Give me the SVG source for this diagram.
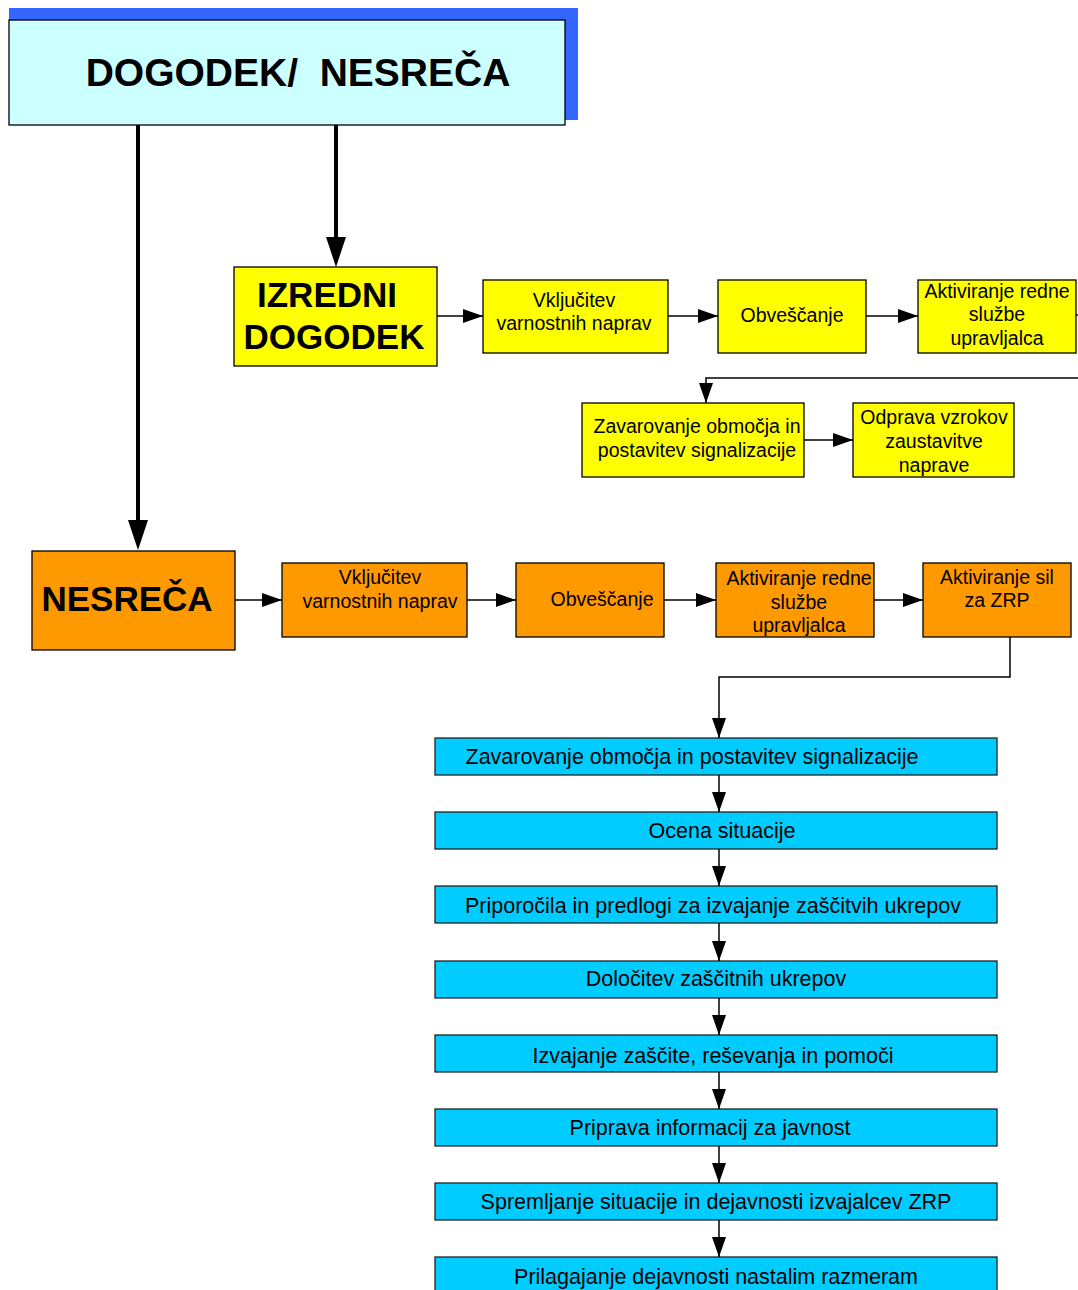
<svg xmlns="http://www.w3.org/2000/svg" width="1078" height="1290" viewBox="0 0 1078 1290">
<style>
.box{stroke:#000;stroke-width:1.3}
.y{fill:#FFFF00}
.o{fill:#FF9900}
.b{fill:#00CCFF;stroke:#222;stroke-width:1.3}
text{font-family:"Liberation Sans",Arial,sans-serif;fill:#000;text-anchor:middle}
.s{font-size:19.5px}
.m{font-size:21.5px}
.big{font-size:35px;font-weight:bold}
.c{stroke:#000;stroke-width:1.5;fill:none}
.ct{stroke:#000;stroke-width:4;fill:none}
</style>
<defs>
<marker id="ah" markerUnits="userSpaceOnUse" markerWidth="20" markerHeight="14" refX="20" refY="7" orient="auto">
<path d="M0,0 L20,7 L0,14 z" fill="#000"/>
</marker>
</defs>
<rect width="1078" height="1290" fill="#fff"/>

<g id="node-top">
<rect x="9" y="8" width="569" height="112" fill="#3366FF"/>
<rect x="9" y="20" width="556" height="105" fill="#CCFFFF" class="box"/>
<text x="298" y="86" style="font-size:39px;font-weight:bold" xml:space="preserve">DOGODEK/  NESREČA</text>
</g>

<g id="node-izredni">
<rect x="234" y="267" width="203" height="99" class="box y"/>
<text class="big" x="327" y="307">IZREDNI</text>
<text class="big" x="334" y="349">DOGODEK</text>
</g>
<g id="node-y-vkl">
<rect x="483" y="280" width="185" height="73" class="box y"/>
<text class="s" x="574" y="307">Vključitev</text>
<text class="s" x="574" y="330">varnostnih naprav</text>
</g>
<g id="node-y-obv">
<rect x="718" y="280" width="148" height="73" class="box y"/>
<text class="s" x="792" y="322">Obveščanje</text>
</g>
<g id="node-y-akt">
<rect x="918" y="280" width="158" height="73" class="box y"/>
<text class="s" x="997" y="298">Aktiviranje redne</text>
<text class="s" x="997" y="321">službe</text>
<text class="s" x="997" y="345">upravljalca</text>
</g>
<g id="node-y-zav">
<rect x="582" y="403" width="222" height="74" class="box y"/>
<text class="s" x="697" y="433">Zavarovanje območja in</text>
<text class="s" x="697" y="457">postavitev signalizacije</text>
</g>
<g id="node-y-odp">
<rect x="853" y="403" width="161" height="74" class="box y"/>
<text class="s" x="934" y="424">Odprava vzrokov</text>
<text class="s" x="934" y="448">zaustavitve</text>
<text class="s" x="934" y="472">naprave</text>
</g>

<g id="node-nesreca">
<rect x="32" y="551" width="203" height="99" class="box o"/>
<text class="big" x="127" y="611">NESREČA</text>
</g>
<g id="node-o-vkl">
<rect x="282" y="563" width="185" height="74" class="box o"/>
<text class="s" x="380" y="584">Vključitev</text>
<text class="s" x="380" y="608">varnostnih naprav</text>
</g>
<g id="node-o-obv">
<rect x="516" y="563" width="148" height="74" class="box o"/>
<text class="s" x="602" y="606">Obveščanje</text>
</g>
<g id="node-o-akt">
<rect x="716" y="563" width="158" height="74" class="box o"/>
<text class="s" x="799" y="585">Aktiviranje redne</text>
<text class="s" x="799" y="609">službe</text>
<text class="s" x="799" y="632">upravljalca</text>
</g>
<g id="node-o-sil">
<rect x="923" y="563" width="148" height="74" class="box o"/>
<text class="s" x="997" y="584">Aktiviranje sil</text>
<text class="s" x="997" y="607">za ZRP</text>
</g>

<g id="node-b1"><rect x="435" y="738" width="562" height="37" class="b"/><text class="m" x="692" y="764">Zavarovanje območja in postavitev signalizacije</text></g>
<g id="node-b2"><rect x="435" y="812" width="562" height="37" class="b"/><text class="m" x="722" y="838">Ocena situacije</text></g>
<g id="node-b3"><rect x="435" y="886" width="562" height="37" class="b"/><text class="m" x="713" y="913">Priporočila in predlogi za izvajanje zaščitvih ukrepov</text></g>
<g id="node-b4"><rect x="435" y="961" width="562" height="37" class="b"/><text class="m" x="716" y="986">Določitev zaščitnih ukrepov</text></g>
<g id="node-b5"><rect x="435" y="1035" width="562" height="37" class="b"/><text class="m" x="713" y="1063">Izvajanje zaščite, reševanja in pomoči</text></g>
<g id="node-b6"><rect x="435" y="1109" width="562" height="37" class="b"/><text class="m" x="710" y="1135">Priprava informacij za javnost</text></g>
<g id="node-b7"><rect x="435" y="1183" width="562" height="37" class="b"/><text class="m" x="716" y="1209">Spremljanje situacije in dejavnosti izvajalcev ZRP</text></g>
<g id="node-b8"><rect x="435" y="1257" width="562" height="40" class="b"/><text class="m" x="716" y="1284">Prilagajanje dejavnosti nastalim razmeram</text></g>

<g id="connectors">
<line class="ct" x1="138" y1="125" x2="138" y2="522"/>
<polygon points="128,520 148,520 138,550" fill="#000"/>
<line class="ct" x1="336" y1="125" x2="336" y2="239"/>
<polygon points="326,237 346,237 336,267" fill="#000"/>

<line class="c" x1="437" y1="316" x2="483" y2="316" marker-end="url(#ah)"/>
<line class="c" x1="668" y1="316" x2="718" y2="316" marker-end="url(#ah)"/>
<line class="c" x1="866" y1="316" x2="918" y2="316" marker-end="url(#ah)"/>
<line class="c" x1="1076" y1="315" x2="1078" y2="315"/>
<polyline class="c" points="1078,378 706,378 706,403" marker-end="url(#ah)"/>
<line class="c" x1="804" y1="440" x2="853" y2="440" marker-end="url(#ah)"/>

<line class="c" x1="235" y1="600" x2="282" y2="600" marker-end="url(#ah)"/>
<line class="c" x1="467" y1="600" x2="516" y2="600" marker-end="url(#ah)"/>
<line class="c" x1="664" y1="600" x2="716" y2="600" marker-end="url(#ah)"/>
<line class="c" x1="874" y1="600" x2="923" y2="600" marker-end="url(#ah)"/>
<polyline class="c" points="1010,637 1010,677 719,677 719,738" marker-end="url(#ah)"/>

<line class="c" x1="719" y1="775" x2="719" y2="812" marker-end="url(#ah)"/>
<line class="c" x1="719" y1="849" x2="719" y2="886" marker-end="url(#ah)"/>
<line class="c" x1="719" y1="923" x2="719" y2="961" marker-end="url(#ah)"/>
<line class="c" x1="719" y1="998" x2="719" y2="1035" marker-end="url(#ah)"/>
<line class="c" x1="719" y1="1072" x2="719" y2="1109" marker-end="url(#ah)"/>
<line class="c" x1="719" y1="1146" x2="719" y2="1183" marker-end="url(#ah)"/>
<line class="c" x1="719" y1="1220" x2="719" y2="1257" marker-end="url(#ah)"/>
</g>
</svg>
